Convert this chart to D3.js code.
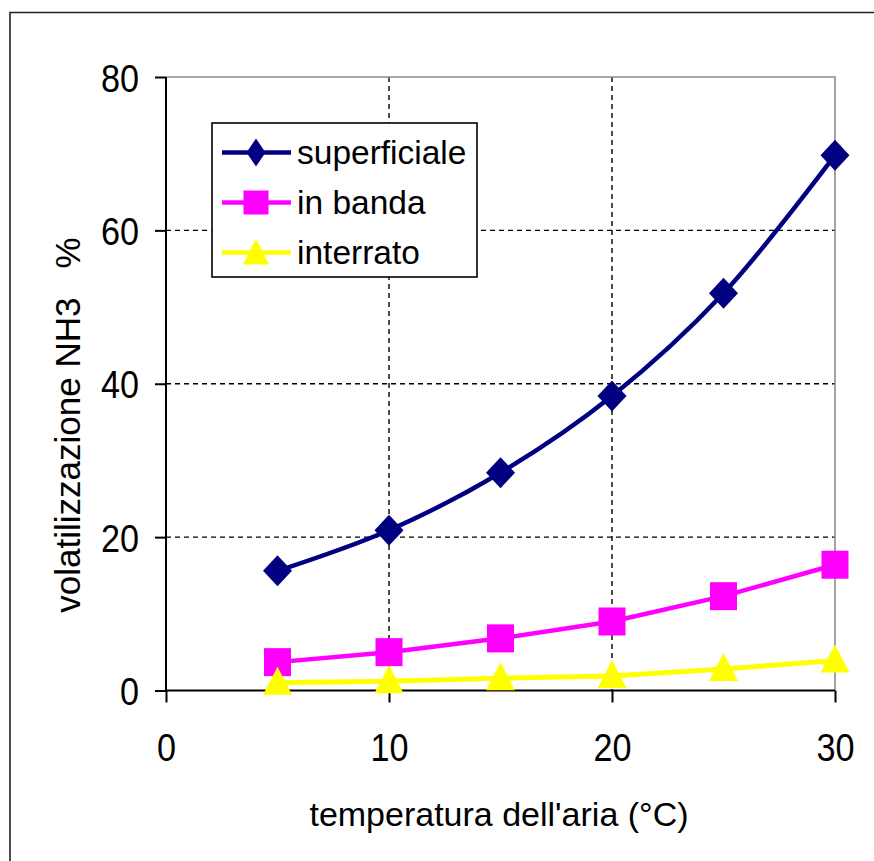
<!DOCTYPE html>
<html>
<head>
<meta charset="utf-8">
<script src="https://cdn.jsdelivr.net/npm/d3@7"></script>
<style>
  html, body { margin: 0; padding: 0; background: #fff; }
  svg { display: block; }
  text { font-family: "Liberation Sans", Arial, sans-serif; fill: #000; }
</style>
</head>
<body>
<svg id="chart" width="874" height="861"></svg>
<script>
// Air temperature (°C) and NH3 volatilisation (%) per application method
const temperature = [5, 10, 15, 20, 25, 30];
const superficiale = [15.6, 20.9, 28.4, 38.4, 51.8, 69.8];
const inBanda = [3.7, 5.0, 6.8, 9.0, 12.3, 16.4];
const interrato = [1.0, 1.2, 1.6, 1.9, 2.8, 3.9];

const xTicks = [0, 10, 20, 30];
const yTicks = [0, 20, 40, 60, 80];

const seriesNames = ["superficiale", "in banda", "interrato"];
const xTitle = "temperatura dell'aria (°C)";
const yTitle = "volatilizzazione NH3   %";

const series = [
  { name: seriesNames[0], values: superficiale, color: "#000080", marker: "diamond", smooth: true },
  { name: seriesNames[1], values: inBanda, color: "#FF00FF", marker: "square", smooth: false },
  { name: seriesNames[2], values: interrato, color: "#FFFF00", marker: "triangle", smooth: false }
];

const svg = d3.select("#chart");
const plot = { left: 166, right: 835, top: 77, bottom: 690.5 };

const x = d3.scaleLinear().domain([0, 30]).range([plot.left, plot.right]);
const y = d3.scaleLinear().domain([0, 80]).range([plot.bottom, plot.top]);

// outer frame
svg.append("rect").attr("x", 0).attr("y", 0).attr("width", 874).attr("height", 861).attr("fill", "#fff");
svg.append("path")
  .attr("d", "M10,900 L10,12.5 L900,12.5")
  .attr("fill", "none").attr("stroke", "#222").attr("stroke-width", 1.6);

// dashed gridlines
const grid = svg.append("g");
grid.selectAll("line.h").data(yTicks.filter(v => v > 0 && v < 80)).join("line")
  .attr("x1", plot.left).attr("x2", plot.right)
  .attr("y1", d => y(d)).attr("y2", d => y(d))
  .attr("stroke", "#000").attr("stroke-width", 1.4).attr("stroke-dasharray", "5,4");
grid.selectAll("line.v").data(xTicks.filter(v => v > 0 && v < 30)).join("line")
  .attr("x1", d => x(d)).attr("x2", d => x(d))
  .attr("y1", plot.top).attr("y2", plot.bottom)
  .attr("stroke", "#000").attr("stroke-width", 1.4).attr("stroke-dasharray", "5,4");

// top and right plot border (grey)
svg.append("path")
  .attr("d", `M${plot.left},${plot.top} L${plot.right},${plot.top} L${plot.right},${plot.bottom}`)
  .attr("fill", "none").attr("stroke", "#8c8c8c").attr("stroke-width", 1.6);

// axes
const xAxis = d3.axisBottom(x).tickValues(xTicks).tickSize(12).tickFormat(d3.format("d"));
const yAxis = d3.axisLeft(y).tickValues(yTicks).tickSize(11).tickFormat(d3.format("d"));

const gx = svg.append("g").attr("transform", `translate(0,${plot.bottom})`).call(xAxis);
const gy = svg.append("g").attr("transform", `translate(${plot.left},0)`).call(yAxis);

[gx, gy].forEach(g => {
  g.select(".domain").attr("stroke", "#000").attr("stroke-width", 2);
  g.selectAll(".tick line").attr("stroke", "#000").attr("stroke-width", 2);
  g.selectAll(".tick text").attr("font-size", 38).attr("font-family", "Liberation Sans, Arial, sans-serif").attr("fill", "#000");
});
gx.select(".domain").attr("d", `M${plot.left},0H${plot.right}`);
gy.select(".domain").attr("d", `M0,${plot.bottom}V${plot.top}`);

gx.selectAll(".tick text").attr("y", 0).attr("dy", null)
  .attr("transform", "translate(0,70) scale(0.9,1)");
gy.selectAll(".tick text").attr("x", 0).attr("dy", null).attr("text-anchor", "end")
  .attr("transform", "translate(-27,14) scale(0.9,1)");

// axis titles
svg.append("text")
  .attr("x", 499).attr("y", 826)
  .attr("text-anchor", "middle").attr("font-size", 34).text(xTitle);
svg.append("text")
  .attr("transform", "translate(80,425) rotate(-90)")
  .attr("text-anchor", "middle").attr("font-size", 35)
  .style("white-space", "pre").text(yTitle);

// marker shapes
function markerPath(type, w, h) {
  const a = w / 2, b = h / 2;
  if (type === "diamond") return `M0,${-b} L${a},0 L0,${b} L${-a},0 Z`;
  if (type === "square") return `M${-a},${-b} H${a} V${b} H${-a} Z`;
  return `M0,${-b} L${a},${b} L${-a},${b} Z`;
}
const markerSize = { diamond: [29, 31], square: [27, 28], triangle: [29, 28] };

// series lines and markers
series.forEach(s => {
  const pts = temperature.map((t, i) => [t, s.values[i]]);
  const line = d3.line()
    .x(d => x(d[0])).y(d => y(d[1]))
    .curve(s.smooth ? d3.curveCatmullRom.alpha(0.5) : d3.curveLinear);
  svg.append("path").datum(pts)
    .attr("d", line).attr("fill", "none")
    .attr("stroke", s.color).attr("stroke-width", s.marker === "triangle" ? 5 : 4.5)
    .attr("stroke-linejoin", "round");
  const [w, h] = markerSize[s.marker];
  svg.append("g").selectAll("path").data(pts).join("path")
    .attr("transform", d => `translate(${x(d[0])},${y(d[1]) + (s.marker === "triangle" ? -2 : 0)})`)
    .attr("d", markerPath(s.marker, w, h))
    .attr("fill", s.color);
});

// legend
const legend = svg.append("g");
legend.append("rect")
  .attr("x", 212).attr("y", 123).attr("width", 265).attr("height", 154)
  .attr("fill", "#fff").attr("stroke", "#000").attr("stroke-width", 1.6);
const legendSize = { diamond: [19, 28], square: [25, 24], triangle: [26, 26] };
const rows = legend.selectAll("g.row").data(series).join("g")
  .attr("transform", (d, i) => `translate(0,${152.5 + i * 50})`);
rows.append("line")
  .attr("x1", 222).attr("x2", 291).attr("y1", 0).attr("y2", 0)
  .attr("stroke", d => d.color).attr("stroke-width", 4.5);
rows.append("path")
  .attr("transform", d => `translate(256,${d.marker === "triangle" ? -1 : 0})`)
  .attr("d", d => markerPath(d.marker, ...legendSize[d.marker]))
  .attr("fill", d => d.color);
rows.append("text")
  .attr("x", 297).attr("y", 11)
  .attr("font-size", 33.5)
  .text(d => d.name);
</script>
</body>
</html>
